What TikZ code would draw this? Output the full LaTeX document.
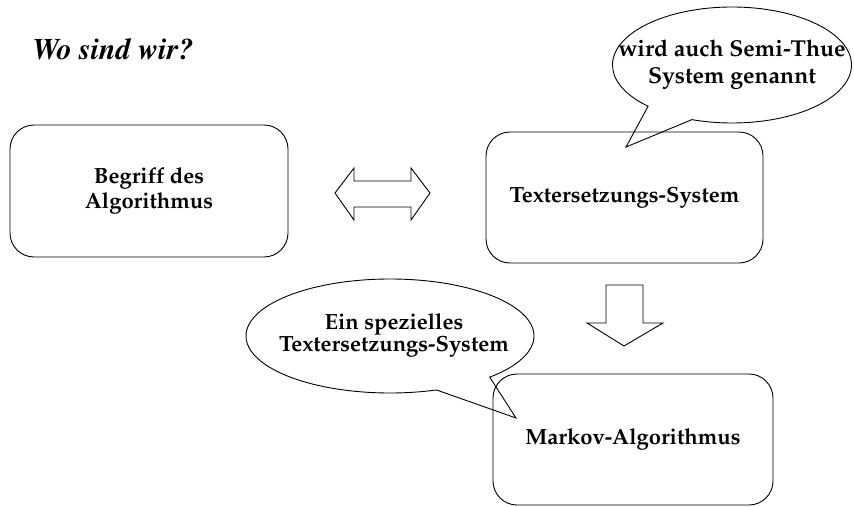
\documentclass[tikz,border=0pt]{standalone}
\usepackage[T1,TU]{fontenc}
\usetikzlibrary{shapes.callouts}

\newcommand\boxfont{\fontencoding{T1}\fontfamily{ppl}\fontseries{b}\fontshape{n}\fontsize{22}{25}\selectfont}
\newcommand\bubblefont{\fontencoding{T1}\fontfamily{ppl}\fontseries{b}\fontshape{n}\fontsize{23}{27}\selectfont}
\newcommand\titlefont{\fontencoding{T1}\fontfamily{ptm}\fontseries{b}\fontshape{it}\fontsize{30}{36}\selectfont}

\begin{document}
\begin{tikzpicture}[x=1pt,y=-1pt,line width=0.9pt]
  \useasboundingbox (0,0) rectangle (854,506);

  \node[anchor=base west,inner sep=0,font=\titlefont] (0) at (32,59) {Wo sind wir?};

  \begin{scope}[every node/.style={draw,rounded corners=24pt,align=center,font=\boxfont}]
    \node[minimum width=278pt,minimum height=132pt] (1) at (149,191)   {Begriff des\\Algorithmus};
    \node[minimum width=277pt,minimum height=131pt] (2) at (624.5,197.5) {Textersetzungs-System};
    \node[minimum width=280pt,minimum height=131pt] (3) at (633,439.5) {Markov-Algorithmus};
  \end{scope}

  % arrows between the boxes
  \draw (335,193) -- (354,168) -- (354,181) -- (411,181) -- (411,168) -- (430,193)
     -- (411,220) -- (411,207) -- (354,207) -- (354,220) -- cycle;
  \draw (606,285) -- (643,285) -- (643,323) -- (663,323) -- (624,346)
     -- (587,323) -- (606,323) -- cycle;

  \begin{scope}[every node/.style={ellipse callout,draw,inner sep=0,callout pointer arc=25}]
    \node[font=\bubblefont,minimum width=239pt,minimum height=116pt,
          callout absolute pointer={(626,147)}] (4) at (732,65)
      {\makebox[0pt]{\raisebox{-4pt}{\begin{tabular}{@{}c@{}}wird auch Semi-Thue\\System genannt\end{tabular}}}};
    \node[font=\fontencoding{T1}\fontfamily{ppl}\fontseries{b}\fontshape{n}\fontsize{22}{22}\selectfont,
          minimum width=288pt,minimum height=114pt,
          callout absolute pointer={(516,418)}] (5) at (390,336)
      {\makebox[0pt]{\hspace{8pt}\raisebox{-8pt}{\begin{tabular}{@{}c@{}}Ein spezielles\\Textersetzungs-System\end{tabular}}}};
  \end{scope}

\end{tikzpicture}
\end{document}
